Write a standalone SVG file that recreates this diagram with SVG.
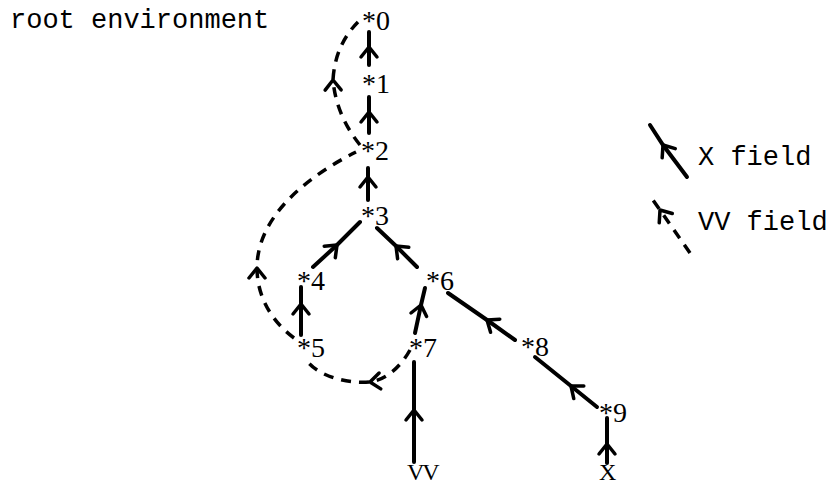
<svg xmlns="http://www.w3.org/2000/svg" width="829" height="486" viewBox="0 0 829 486">
<style>
.mono{font-family:"Liberation Mono","Courier New",monospace;font-size:27px;fill:#000}
.node{font-family:"Liberation Serif","Times New Roman",serif;font-size:28px;fill:#000}
.x{fill:none;stroke:#000;stroke-width:4;stroke-linecap:round;marker-mid:url(#ah)}
.vv{fill:none;stroke:#000;stroke-width:3.5;stroke-dasharray:10 8;marker-mid:url(#ah)}
</style>
<defs>
<marker id="ah" markerUnits="userSpaceOnUse" viewBox="-14 -12 20 24" markerWidth="20" markerHeight="24" refX="0" refY="0" orient="auto" overflow="visible">
<path d="M-10,-8 L0,0 L-10,8" fill="none" stroke="#000" stroke-width="3.5" stroke-linecap="round" stroke-linejoin="round"/>
</marker>
</defs>
<rect width="829" height="486" fill="#fff"/>
<text class="mono" x="10" y="28">root environment</text>
<g id="connectors">
<path class="x" d="M369,65 L369,47 L369,32"/>
<path class="x" d="M369,133 L369,112 L369,97"/>
<path class="x" d="M368,200 L368,177 L368,168"/>
<path class="x" d="M313,267 L337,245 L360,222"/>
<path class="x" d="M417,267 L396,246 L377,228"/>
<path class="x" d="M301,335 L301,304 L301,287"/>
<path class="x" d="M415,333 L421,305 L425,288"/>
<path class="x" d="M414,462 L414,410 L414,362"/>
<path class="x" d="M515,340 L487,320 L448,293"/>
<path class="x" d="M597,407 L571,386 L535,357"/>
<path class="x" d="M607,463 L607,444 L607,418"/>
<path class="vv" d="M360,145 Q336,115 333,80 Q335,45 358,22"/>
<path class="vv" d="M294,338 C270,320 257,295 257,268 C257,215 310,175 356,152"/>
<path class="vv" d="M410,350 C400,368 385,380 370,382 C345,384 315,375 305,358"/>
</g>
<g id="n0"><text class="node" x="362" y="30">*0</text></g>
<g id="n1"><text class="node" x="362" y="93">*1</text></g>
<g id="n2"><text class="node" x="361" y="160">*2</text></g>
<g id="n3"><text class="node" x="361" y="225">*3</text></g>
<g id="n4"><text class="node" x="297" y="290">*4</text></g>
<g id="n6"><text class="node" x="426" y="290">*6</text></g>
<g id="n5"><text class="node" x="297" y="357">*5</text></g>
<g id="n7"><text class="node" x="409" y="357">*7</text></g>
<g id="n8"><text class="node" x="521" y="356">*8</text></g>
<g id="n9"><text class="node" x="599" y="422">*9</text></g>
<g id="nVV"><text class="node" x="407" y="480" style="font-size:24px;letter-spacing:-2px">VV</text></g>
<g id="nX"><text class="node" x="599" y="480" style="font-size:24px">X</text></g>
<g id="legend">
<path class="x" d="M687,177 L663,145 L650,125"/>
<text class="mono" x="698" y="165">X field</text>
<path class="vv" d="M690,253 L660,210 L650,196"/>
<text class="mono" x="698" y="230">VV field</text>
</g>
</svg>
